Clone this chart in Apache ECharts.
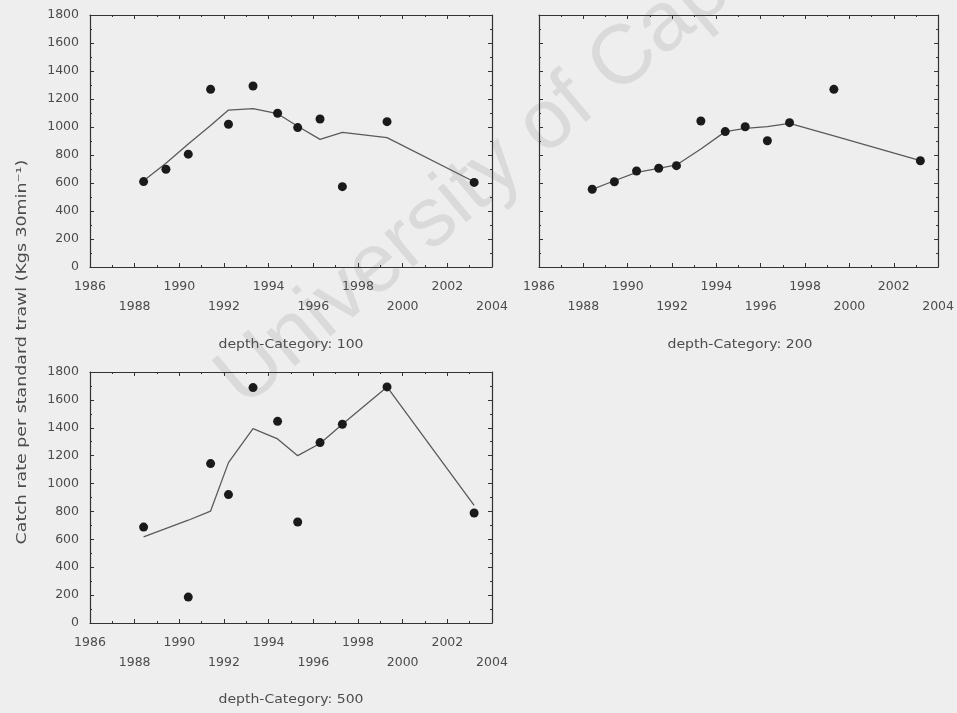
<!DOCTYPE html>
<html>
<head>
<meta charset="utf-8">
<script src="https://cdn.jsdelivr.net/npm/echarts@6/dist/echarts.min.js"></script>
<style>
  html, body { margin: 0; padding: 0; background: #eeeeee; }
  #chart { width: 957px; height: 713px; }
</style>
</head>
<body>
<div id="chart"></div>
<script>
// Survey years (plotted at the point within each year where the survey fell)
const years = [1988.4, 1989.4, 1990.4, 1991.4, 1992.2, 1993.3, 1994.4, 1995.3, 1996.3, 1997.3, 1999.3, 2003.2];
const years500 = [1988.4, 1990.4, 1991.4, 1992.2, 1993.3, 1994.4, 1995.3, 1996.3, 1997.3, 1999.3, 2003.2];

// Catch rate per standard trawl (kg per 30 min), depth category 100
const catch100 = [610, 698, 806, 1269, 1020, 1293, 1098, 996, 1057, 574, 1038, 604];
const trend100 = [616, 741, 878, 1010, 1121, 1131, 1095, 1005, 912, 962, 924, 609];

// Depth category 200
const catch200 = [555, 609, 686, 705, 724, 1043, 967, 1002, 902, 1031, 1269, 759];
const trend200 = [555, 616, 676, 705, 729, 843, 967, 990, 1002, 1026, 936, 759];

// Depth category 500
const catch500 = [688, 186, 1143, 921, 1688, 1446, 724, 1294, 1425, 1693, 789];
const trend500 = [617, 737, 803, 1150, 1394, 1320, 1200, 1287, 1425, 1693, 844];

const panelTitles = ['depth-Category: 100', 'depth-Category: 200', 'depth-Category: 500'];
const yTitle = 'Catch rate per standard trawl (Kgs 30min\u207B\u00B9)';
const watermark = 'University of Cape Town';

const FONT = 'DejaVu Sans';
const INK = '#333333';
const TEXT = '#4c4c4c';

const grids = [
  { left: 90, top: 15, width: 402, height: 252 },
  { left: 539, top: 15, width: 402, height: 252 },
  { left: 90, top: 372, width: 402, height: 251 }
];

function pairs(xs, ys) { return xs.map((x, i) => [x, ys[i]]); }

function frameStyle() {
  return {
    axisLine: { show: true, onZero: false, lineStyle: { color: INK, width: 1.2 } },
    axisTick: { show: true, inside: true, length: 4, lineStyle: { color: INK } },
    minorTick: { show: true, splitNumber: 2, length: 2, lineStyle: { color: INK } },
    splitLine: { show: false }
  };
}

const xAxes = [], yAxes = [];
grids.forEach((g, gi) => {
  xAxes.push(Object.assign({
    type: 'value', gridIndex: gi, position: 'bottom', min: 1986, max: 2004, interval: 2,
    axisLabel: {
      show: true, margin: 10, fontFamily: FONT, fontSize: 12.5, color: TEXT, lineHeight: 20,
      formatter: v => ((v - 1986) % 4 === 0 ? String(v) : '\n' + v)
    }
  }, frameStyle()));
  xAxes.push(Object.assign({
    type: 'value', gridIndex: gi, position: 'top', min: 1986, max: 2004, interval: 2,
    axisLabel: { show: false }
  }, frameStyle()));
  yAxes.push(Object.assign({
    type: 'value', gridIndex: gi, position: 'left', min: 0, max: 1800, interval: 200,
    axisLabel: {
      show: gi !== 1, margin: 11, fontFamily: FONT, fontSize: 12.5, color: TEXT,
      formatter: v => String(v)
    }
  }, frameStyle()));
  yAxes.push(Object.assign({
    type: 'value', gridIndex: gi, position: 'right', min: 0, max: 1800, interval: 200,
    axisLabel: { show: false }
  }, frameStyle()));
});

const panels = [
  { x: years, c: catch100, t: trend100 },
  { x: years, c: catch200, t: trend200 },
  { x: years500, c: catch500, t: trend500 }
];

const series = [];
panels.forEach((p, gi) => {
  series.push({
    type: 'line', xAxisIndex: 2 * gi, yAxisIndex: 2 * gi,
    data: pairs(p.x, p.t), showSymbol: false,
    lineStyle: { color: '#5a5a5a', width: 1.3 }, z: 2
  });
  series.push({
    type: 'scatter', xAxisIndex: 2 * gi, yAxisIndex: 2 * gi,
    data: pairs(p.x, p.c), symbol: 'circle', symbolSize: 9,
    itemStyle: { color: '#1a1a1a', opacity: 1 }, z: 3
  });
});

const titleCenters = [[291, 345], [740, 345], [291, 700]];

const graphic = [
  {
    type: 'text', x: 576, y: 100, rotation: 40 * Math.PI / 180, z: -10, silent: true,
    style: {
      text: watermark, fontFamily: 'Liberation Sans', fontSize: 84,
      fill: '#dadada', textAlign: 'center', textVerticalAlign: 'middle'
    }
  },
  {
    type: 'text', x: 22, y: 352, rotation: Math.PI / 2, scaleX: 1.2,
    style: {
      text: yTitle, fontFamily: FONT, fontSize: 14.5, fill: TEXT,
      textAlign: 'center', textVerticalAlign: 'middle'
    }
  }
].concat(panelTitles.map((t, i) => ({
  type: 'text', x: titleCenters[i][0], y: titleCenters[i][1], scaleX: 1.08,
  style: {
    text: t, fontFamily: FONT, fontSize: 13, fill: TEXT,
    textAlign: 'center', textVerticalAlign: 'middle'
  }
})));

const chart = echarts.init(document.getElementById('chart'), null, { renderer: 'canvas' });
chart.setOption({
  backgroundColor: '#eeeeee',
  animation: false,
  grid: grids,
  xAxis: xAxes,
  yAxis: yAxes,
  series: series,
  graphic: graphic
});
</script>
</body>
</html>
